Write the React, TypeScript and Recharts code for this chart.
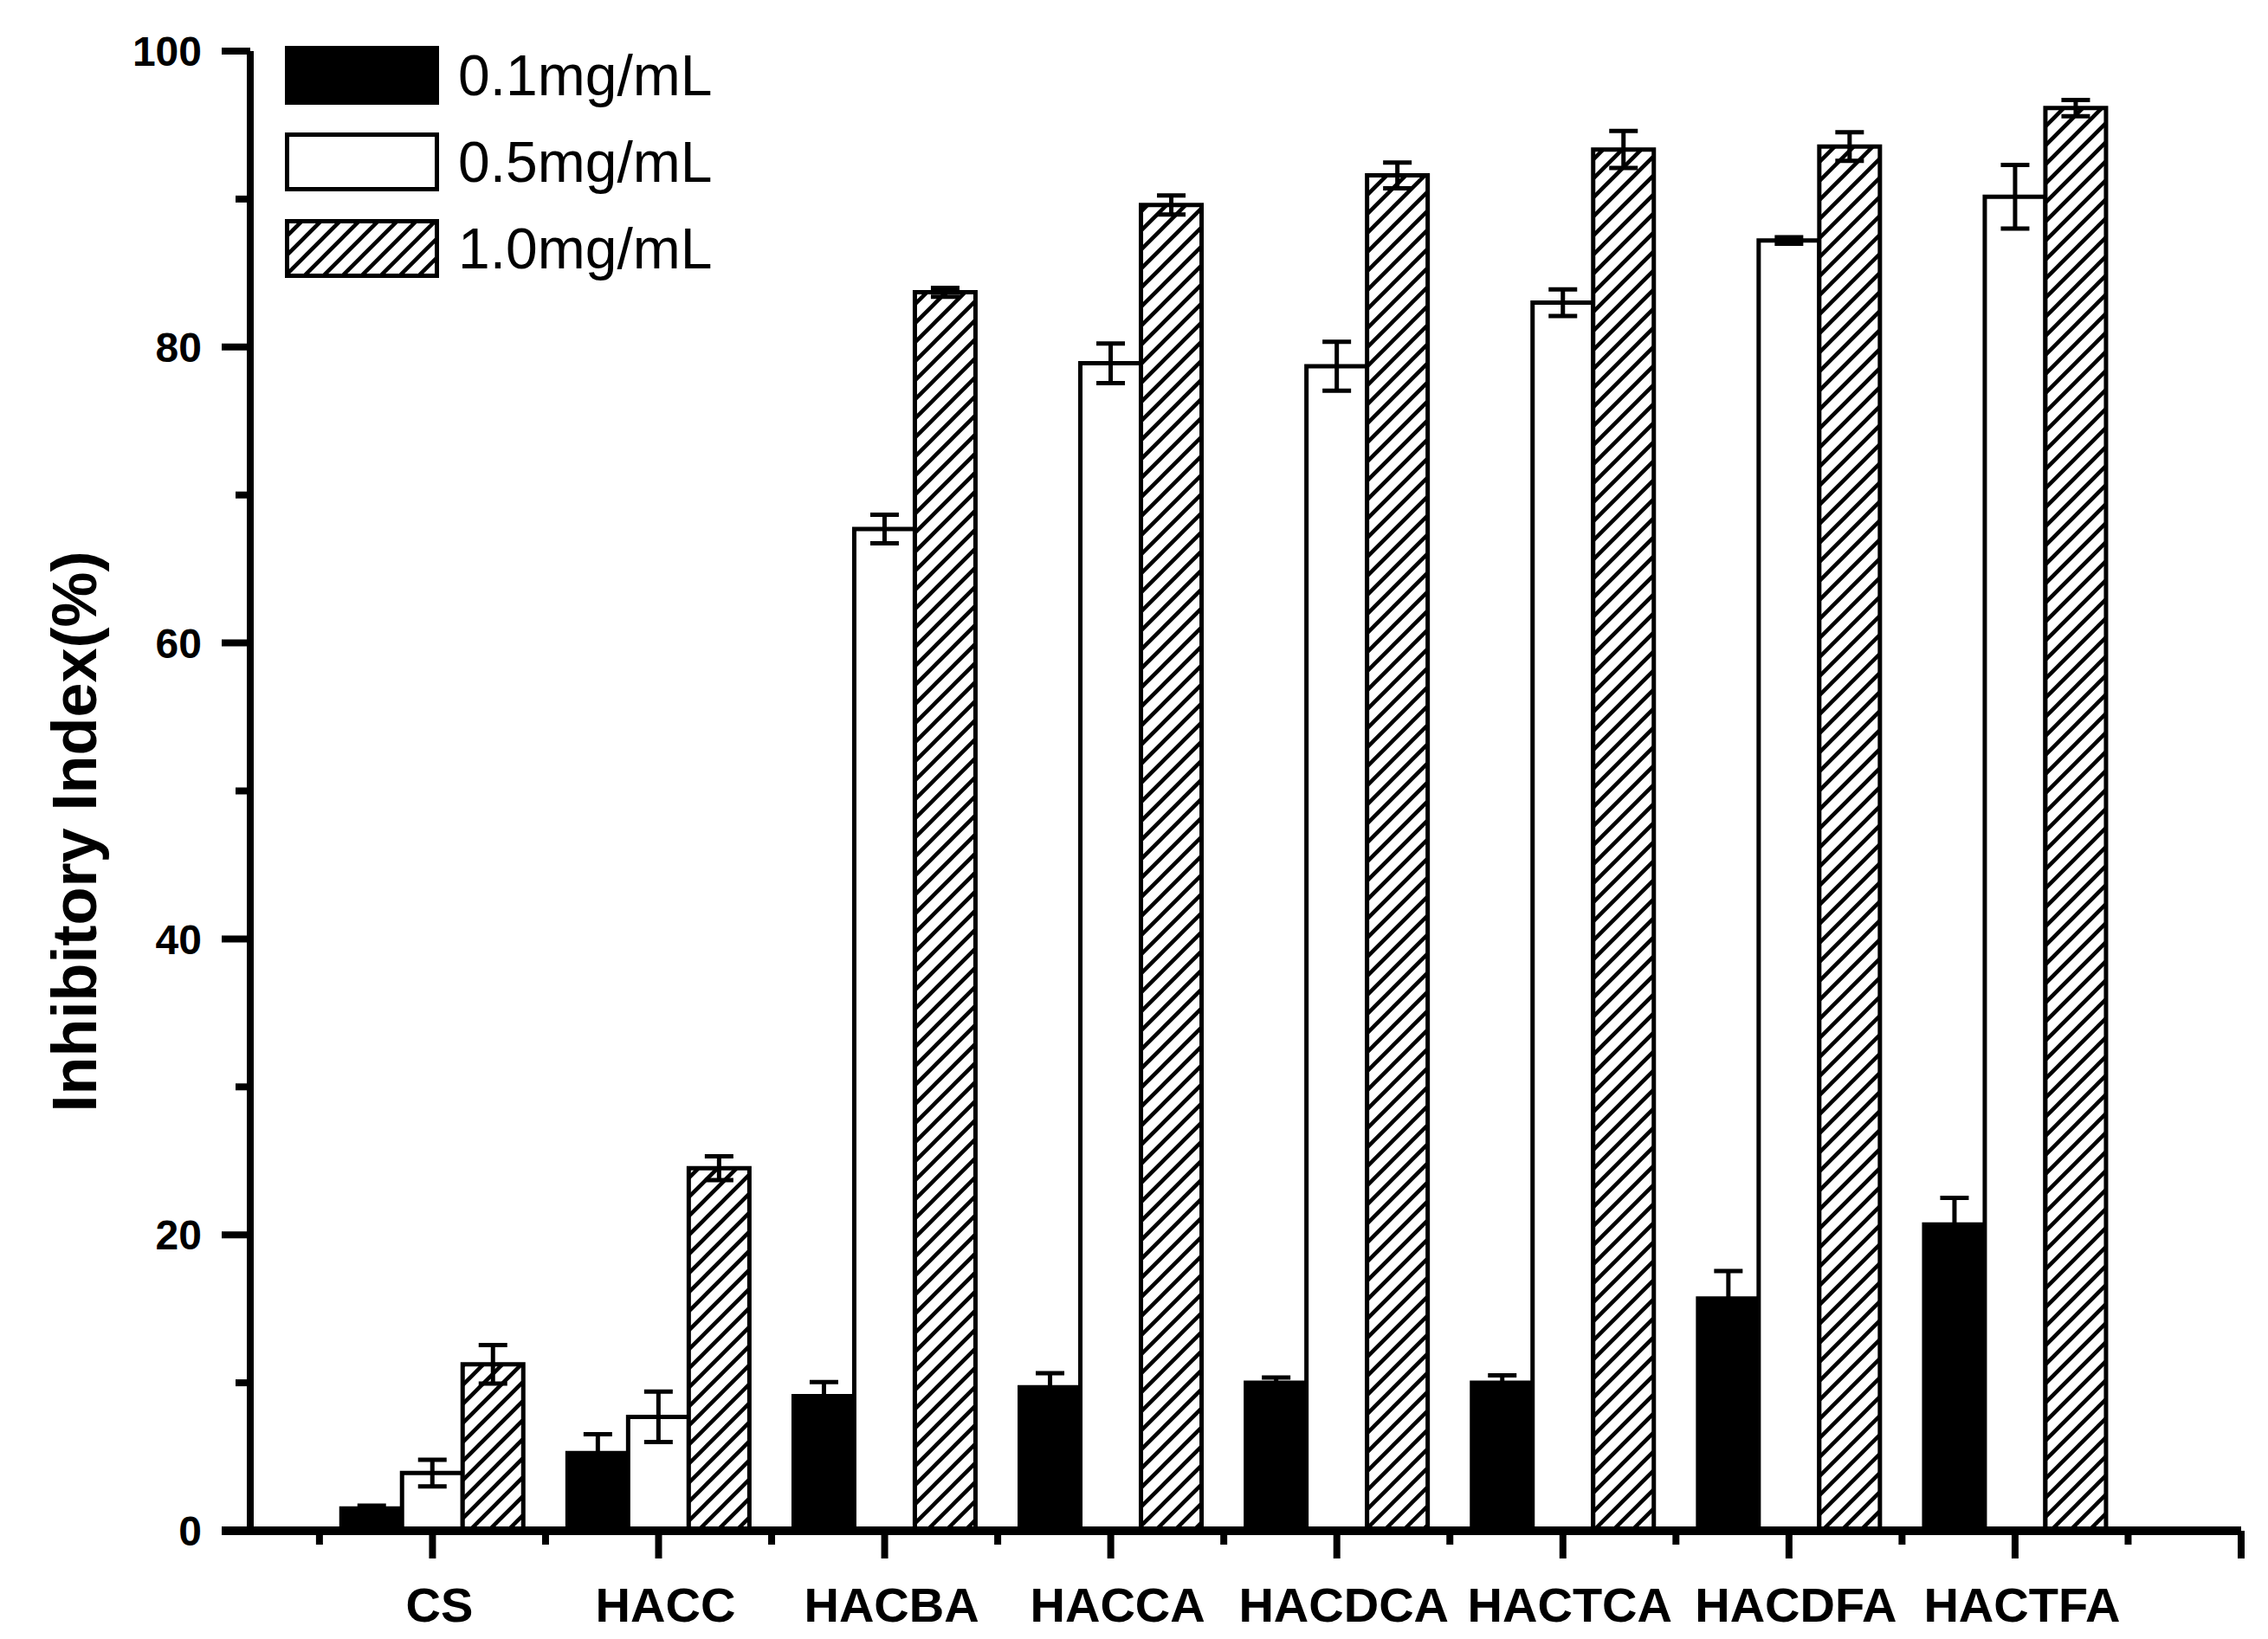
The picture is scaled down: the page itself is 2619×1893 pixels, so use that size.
import React from 'react';
import { BarChart, Bar, XAxis, YAxis, ErrorBar, Legend } from 'recharts';

const categories = ['CS', 'HACC', 'HACBA', 'HACCA', 'HACDCA', 'HACTCA', 'HACDFA', 'HACTFA'];
const low = [1.5, 5.25, 9.1, 9.7, 10.0, 10.0, 15.7, 20.7];
const lowErr = [0.2, 1.27, 0.95, 0.95, 0.35, 0.5, 1.86, 1.8];
const mid = [3.9, 7.7, 67.7, 78.9, 78.7, 83.0, 87.2, 90.15];
const midErr = [0.9, 1.7, 0.97, 1.34, 1.65, 0.9, 0.22, 2.15];
const high = [11.25, 24.5, 83.7, 89.6, 91.6, 93.35, 93.55, 96.15];
const highErr = [1.3, 0.8, 0.3, 0.65, 0.87, 1.25, 0.97, 0.55];

const seriesNames = ['0.1mg/mL', '0.5mg/mL', '1.0mg/mL'];
const yTicks = [0, 10, 20, 30, 40, 50, 60, 70, 80, 90, 100];
const xTicks = [-0.5, 0, 0.5, 1, 1.5, 2, 2.5, 3, 3.5, 4, 4.5, 5, 5.5, 6, 6.5, 7, 7.5, 8];

const data = categories.map((name, i) => ({
  name,
  idx: i,
  low: low[i],
  lowErr: lowErr[i],
  mid: mid[i],
  midErr: midErr[i],
  high: high[i],
  highErr: highErr[i],
}));

const FONT = '"Liberation Sans", Arial, Helvetica, sans-serif';
const W = 2619;
const H = 1893;

const XTick = (props: any) => {
  const { x, y, payload } = props;
  const v = Number(payload.value);
  const major = Math.abs(v - Math.round(v)) < 1e-6;
  const label = major ? categories[Math.round(v)] : undefined;
  return (
    <g>
      <line x1={x} x2={x} y1={y} y2={y + (major ? 32 : 16)} stroke="#000" strokeWidth={8} />
      {label && (
        <text x={x + 8} y={y + 105} textAnchor="middle" fontFamily={FONT} fontWeight="bold" fontSize={56} fill="#000">
          {label}
        </text>
      )}
    </g>
  );
};

const YTick = (props: any) => {
  const { x, y, payload } = props;
  const v = payload.value;
  const major = v % 20 === 0;
  return (
    <g>
      <line x1={x - (major ? 33 : 17)} x2={x} y1={y} y2={y} stroke="#000" strokeWidth={v === 0 ? 10 : 8} />
      {major && (
        <text x={x - 56} y={y} dy="0.36em" textAnchor="end" fontFamily={FONT} fontWeight="bold" fontSize={48} fill="#000">
          {v}
        </text>
      )}
    </g>
  );
};

const YLabel = (props: any) => {
  const { viewBox } = props;
  const cx = 86;
  const cy = viewBox.y + viewBox.height / 2 + 47;
  return (
    <text
      x={cx}
      y={cy}
      dy="0.35em"
      transform={`rotate(-90, ${cx}, ${cy})`}
      textAnchor="middle"
      fontFamily={FONT}
      fontWeight="bold"
      fontSize={72}
      fill="#000"
    >
      Inhibitory Index(%)
    </text>
  );
};

const swatchFills = ['#000', '#fff', 'url(#hatch)'];

const LegendContent = () => (
  <div style={{ fontFamily: FONT, fontSize: 66, color: '#000', lineHeight: 1 }}>
    {seriesNames.map((n, i) => (
      <div key={n} style={{ display: 'flex', alignItems: 'center', height: 68, marginBottom: 32 }}>
        <svg width={178} height={68} style={{ display: 'block' }}>
          <rect x={2.5} y={2.5} width={173} height={63} fill={swatchFills[i]} stroke="#000" strokeWidth={5} />
        </svg>
        <span style={{ marginLeft: 22, whiteSpace: 'nowrap' }}>{n}</span>
      </div>
    ))}
  </div>
);

export default function App() {
  return (
    <div style={{ position: 'absolute', left: 0, top: 0, width: W, height: H, background: '#fff' }}>
      <BarChart
        width={W}
        height={H}
        data={data}
        margin={{ top: 59, right: 31, bottom: 0, left: 0 }}
        barCategoryGap={25.5}
        barGap={0}
      >
        <defs>
          <pattern id="hatch" patternUnits="userSpaceOnUse" width={22} height={22}>
            <rect width={22} height={22} fill="#fff" />
            <path d="M-5.5,5.5 L5.5,-5.5 M0,22 L22,0 M16.5,27.5 L27.5,16.5" stroke="#000" strokeWidth={4.5} />
          </pattern>
        </defs>
        <XAxis xAxisId="cat" dataKey="name" hide height={0} padding={{ left: 79.75, right: 130.45 }} />
        <XAxis
          xAxisId="num"
          dataKey="idx"
          type="number"
          domain={[-0.806, 8]}
          allowDataOverflow
          ticks={xTicks}
          interval={0}
          tick={<XTick />}
          tickLine={false}
          tickSize={0}
          tickMargin={0}
          axisLine={{ stroke: '#000', strokeWidth: 10 }}
          height={125}
        />
        <YAxis
          type="number"
          domain={[0, 100]}
          ticks={yTicks}
          interval={0}
          width={289}
          tick={<YTick />}
          tickLine={false}
          tickSize={0}
          tickMargin={0}
          axisLine={{ stroke: '#000', strokeWidth: 8 }}
          label={<YLabel />}
        />
        <Legend
          layout="vertical"
          align="center"
          verticalAlign="middle"
          content={<LegendContent />}
          wrapperStyle={{ position: 'absolute', left: 329, top: 53, width: 'auto', height: 'auto' }}
        />
        <Bar xAxisId="cat" dataKey="low" name={seriesNames[0]} fill="#000" stroke="#000" strokeWidth={5} isAnimationActive={false}>
          <ErrorBar dataKey="lowErr" width={16.5} strokeWidth={5} stroke="#000" isAnimationActive={false} />
        </Bar>
        <Bar xAxisId="cat" dataKey="mid" name={seriesNames[1]} fill="#fff" stroke="#000" strokeWidth={5} isAnimationActive={false}>
          <ErrorBar dataKey="midErr" width={16.5} strokeWidth={5} stroke="#000" isAnimationActive={false} />
        </Bar>
        <Bar xAxisId="cat" dataKey="high" name={seriesNames[2]} fill="url(#hatch)" stroke="#000" strokeWidth={5} isAnimationActive={false}>
          <ErrorBar dataKey="highErr" width={16.5} strokeWidth={5} stroke="#000" isAnimationActive={false} />
        </Bar>
      </BarChart>
    </div>
  );
}
